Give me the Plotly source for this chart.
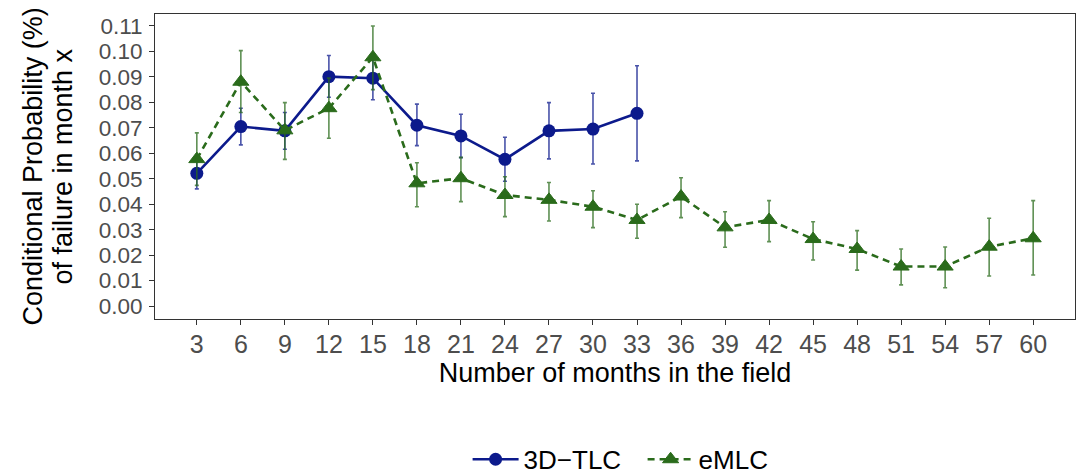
import plotly.graph_objects as go

# ---- data ----
months_tlc = [3, 6, 9, 12, 15, 18, 21, 24, 27, 30, 33]
prob_tlc = [0.0521, 0.0705, 0.0688, 0.0901, 0.0895, 0.0710, 0.0668, 0.0576, 0.0688, 0.0695, 0.0757]
upper_tlc = [0.0580, 0.0777, 0.0760, 0.0984, 0.0980, 0.0793, 0.0753, 0.0663, 0.0799, 0.0836, 0.0944]
lower_tlc = [0.0460, 0.0633, 0.0616, 0.0820, 0.0810, 0.0630, 0.0583, 0.0490, 0.0578, 0.0558, 0.0570]

months_emlc = [3, 6, 9, 12, 15, 18, 21, 24, 27, 30, 33, 36, 39, 42, 45, 48, 51, 54, 57, 60]
prob_emlc = [0.0577, 0.0881, 0.0690, 0.0777, 0.0977, 0.0482, 0.0502, 0.0436, 0.0417, 0.0390,
             0.0338, 0.0430, 0.0309, 0.0338, 0.0263, 0.0224, 0.0155, 0.0155, 0.0233, 0.0266]
upper_emlc = [0.0680, 0.1003, 0.0799, 0.0895, 0.1100, 0.0563, 0.0584, 0.0508, 0.0485, 0.0453,
              0.0400, 0.0504, 0.0370, 0.0414, 0.0331, 0.0296, 0.0224, 0.0232, 0.0345, 0.0414]
lower_emlc = [0.0474, 0.0760, 0.0576, 0.0659, 0.0850, 0.0390, 0.0410, 0.0351, 0.0334, 0.0308,
              0.0266, 0.0347, 0.0231, 0.0253, 0.0181, 0.0141, 0.0083, 0.0072, 0.0118, 0.0122]

x_ticks = list(range(3, 61, 3))
y_ticks = [i / 100 for i in range(0, 12)]

y_title_lines = ["Conditional Probability (%)", "of failure in month x"]
x_title = "Number of months in the field"

BLUE = "#0c1a8c"
GREEN = "#2a6b1b"
FONT = "Liberation Sans"

def err(vals, up, lo):
    return dict(
        type="data", symmetric=False,
        array=[u - v for u, v in zip(up, vals)],
        arrayminus=[v - l for v, l in zip(vals, lo)],
    )

fig = go.Figure()

fig.add_trace(go.Scatter(
    x=months_tlc, y=prob_tlc, name="3D\u2212TLC", mode="lines+markers",
    line=dict(color=BLUE, width=2.6),
    marker=dict(symbol="circle", size=13, color=BLUE),
    error_y=dict(**err(prob_tlc, upper_tlc, lower_tlc), color="rgba(12,26,140,0.75)",
                 thickness=1.6, width=2),
))

fig.add_trace(go.Scatter(
    x=months_emlc, y=prob_emlc, name="eMLC", mode="lines+markers",
    line=dict(color=GREEN, width=2.6, dash="7px,5px"),
    marker=dict(symbol="triangle-up", size=14, color=GREEN, line=dict(color=GREEN, width=1)),
    error_y=dict(**err(prob_emlc, upper_emlc, lower_emlc), color="rgba(42,107,27,0.75)",
                 thickness=1.6, width=2),
))

axis_common = dict(
    showgrid=False, zeroline=False,
    showline=True, linecolor="#333333", linewidth=1, mirror=True,
    ticks="outside", ticklen=5, tickwidth=1, tickcolor="#333333",
)

fig.update_layout(
    width=1076, height=475,
    paper_bgcolor="white", plot_bgcolor="white",
    margin=dict(l=155, r=1, t=14, b=156, autoexpand=False),
    font=dict(family=FONT, size=27, color="black"),
    xaxis=dict(
        **axis_common, range=[0.15, 62.85], tickvals=x_ticks,
        tickfont=dict(family=FONT, size=25, color="#4d4d4d"),
        ticklabelstandoff=-2,
        title=dict(text=x_title, font=dict(size=27, color="black"), standoff=4),
    ),
    yaxis=dict(
        **axis_common, range=[-0.0051, 0.1147], tickvals=y_ticks, tickformat=".2f",
        tickfont=dict(family=FONT, size=22.5, color="#4d4d4d"),
        ticklabelstandoff=2,
    ),
    legend=dict(
        orientation="h", xref="paper", x=0.53, xanchor="center",
        yref="container", y=0.033, yanchor="middle",
        font=dict(family=FONT, size=26, color="black"),
        itemwidth=46, entrywidth=114, entrywidthmode="pixels", tracegroupgap=0,
    ),
    showlegend=True,
)

# two-line rotated y-axis title (tight line spacing like the reference)
for line, xs in zip(y_title_lines, [32 - 155, 62 - 155]):
    fig.add_annotation(
        text=line, textangle=-90, xref="paper", yref="paper",
        x=0, y=0.5, xanchor="center", yanchor="middle", xshift=xs,
        showarrow=False, font=dict(family=FONT, size=27, color="black"),
    )

fig.write_html("out.html", config={"displayModeBar": False},
               post_script="document.body.style.margin='0';")
